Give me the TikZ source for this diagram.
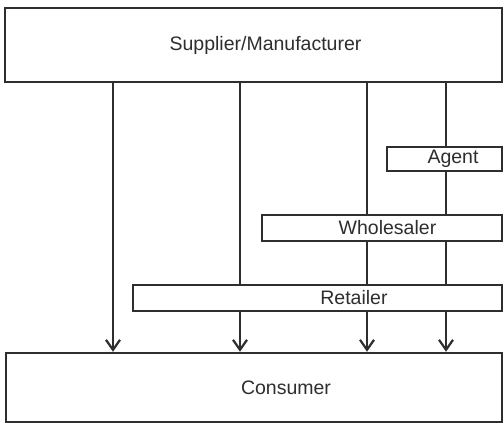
\documentclass[tikz,border=0pt]{standalone}
\usepackage{fontspec}
\setmainfont{Liberation Sans}
\definecolor{ink}{HTML}{2E2E2E}
\usepackage{tikz}
\usetikzlibrary{arrows.meta,positioning}

\begin{document}
\begin{tikzpicture}[x=1pt,y=-1pt,
    chanbox/.style={draw=ink,line width=2.5pt,fill=white,inner sep=0pt},
    chanlabel/.style={ink,font=\fontsize{19.5}{21}\selectfont},
    flow/.style={draw=ink,line width=2pt},
    flowend/.style={flow,-{Straight Barb[length=10pt,width=14pt,line width=2.2pt]}}]
  \useasboundingbox (0,0) rectangle (504,423);
  % the two ends of the channel
  \node[chanbox,minimum width=497,minimum height=74,
        label={[chanlabel,xshift=12]center:Supplier/Manufacturer}] (sup) at (253.5,45) {};
  \node[chanbox,minimum width=496,minimum height=69,
        label={[chanlabel,xshift=32]center:Consumer}] (con) at (254,387.5) {};
  % x positions of the four channels
  \coordinate (c1) at (113,0);
  \coordinate (c2) at (240,0);
  \coordinate (c3) at (367,0);
  \coordinate (c4) at (446,0);
  % channel lines, drawn before the middlemen so the boxes cover them
  \draw[flowend] (sup.south -| c1) -- (con.north -| c1);
  \draw[flowend] (sup.south -| c2) -- (con.north -| c2);
  \draw[flowend] (sup.south -| c3) -- (con.north -| c3);
  \draw[flowend] (sup.south -| c4) -- (con.north -| c4);
  % middlemen
  \node[chanbox,minimum width=115,minimum height=24,
        label={[chanlabel,xshift=8.5]center:Agent}] (agent) at (444.5,159) {};
  \node[chanbox,minimum width=240,minimum height=26,
        label={[chanlabel,xshift=5.5]center:Wholesaler}] (whole) at (382,228) {};
  \node[chanbox,minimum width=369,minimum height=26,
        label={[chanlabel,xshift=36.5]center:Retailer}] (ret) at (317.5,298) {};
\end{tikzpicture}
\end{document}
